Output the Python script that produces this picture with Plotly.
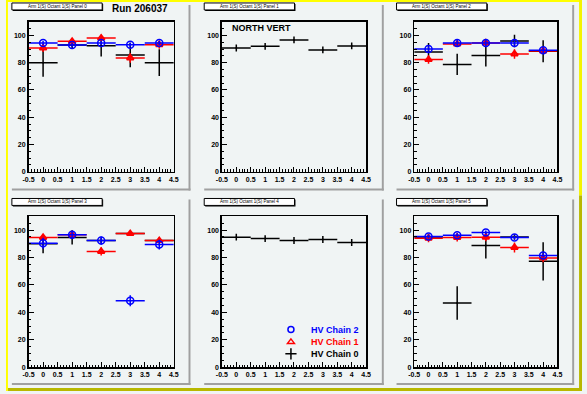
import plotly.graph_objects as go

W, H = 587, 394

# ---------------- data ----------------
bins = [0, 1, 2, 3, 4]
bin_half_width = [0.5, 0.5, 0.5, 0.5, 0.5]

x_tickvals = [-0.5, 0, 0.5, 1, 1.5, 2, 2.5, 3, 3.5, 4, 4.5]
x_ticktext = ["-0.5", "0", "0.5", "1", "1.5", "2", "2.5", "3", "3.5", "4", "4.5"]
y_tickvals = [0, 20, 40, 60, 80, 100]
y_ticktext = ["0", "20", "40", "60", "80", "100"]

panel_titles = [
    "Arm 1(S) Octant 1(S) Panel 0",
    "Arm 1(S) Octant 1(S) Panel 1",
    "Arm 1(S) Octant 1(S) Panel 2",
    "Arm 1(S) Octant 1(S) Panel 3",
    "Arm 1(S) Octant 1(S) Panel 4",
    "Arm 1(S) Octant 1(S) Panel 5",
]
run_label = "Run 206037"
region_label = "NORTH VERT"
chain_names = ["HV Chain 0", "HV Chain 1", "HV Chain 2"]

# panel 0
p0_chain0 = [80.0, 93.0, 92.5, 85.7, 80.0]
p0_chain0_err = [10.3, 2.5, 8.0, 9.0, 9.8]
p0_chain1 = [90.8, 95.7, 98.1, 83.5, 93.2]
p0_chain1_err = [3.0, 2.5, 2.0, 3.5, 3.0]
p0_chain2 = [94.5, 93.0, 94.5, 93.2, 94.5]
p0_chain2_err = [1.5, 1.5, 1.5, 1.5, 1.5]
# panel 1
p1_chain0 = [90.8, 92.0, 96.7, 89.4, 92.3]
p1_chain0_err = [2.5, 2.5, 2.5, 2.5, 2.5]
# panel 2
p2_chain0 = [87.9, 78.7, 85.2, 95.9, 88.4]
p2_chain0_err = [6.5, 7.8, 8.0, 4.6, 8.0]
p2_chain1 = [82.3, 93.7, 94.5, 86.4, 88.6]
p2_chain1_err = [3.0, 2.0, 2.0, 3.5, 2.0]
p2_chain2 = [90.1, 94.5, 94.5, 94.5, 89.1]
p2_chain2_err = [2.0, 2.0, 2.0, 2.0, 2.0]
# panel 3
p3_chain0 = [90.0, 94.6, 92.3, 97.4, 92.3]
p3_chain0_err = [7.0, 5.2, 2.0, 1.0, 2.0]
p3_chain1 = [94.6, 96.5, 84.4, 97.4, 92.3]
p3_chain1_err = [2.5, 2.0, 3.0, 1.0, 2.0]
p3_chain2 = [90.4, 96.5, 92.3, 48.5, 89.4]
p3_chain2_err = [4.0, 3.0, 3.0, 4.0, 3.5]
# panel 4
p4_chain0 = [94.8, 93.8, 92.4, 93.1, 90.9]
p4_chain0_err = [2.5, 2.5, 2.5, 2.5, 2.5]
# panel 5
p5_chain0 = [95.0, 46.8, 88.8, 95.0, 77.2]
p5_chain0_err = [2.0, 12.3, 9.5, 2.0, 13.9]
p5_chain1 = [94.1, 94.6, 94.8, 87.3, 79.6]
p5_chain1_err = [3.0, 3.0, 3.0, 3.7, 3.0]
p5_chain2 = [95.3, 96.2, 98.2, 94.6, 81.5]
p5_chain2_err = [1.5, 1.5, 1.5, 1.5, 1.5]

panels = [
    [(p0_chain0, p0_chain0_err), (p0_chain1, p0_chain1_err), (p0_chain2, p0_chain2_err)],
    [(p1_chain0, p1_chain0_err), None, None],
    [(p2_chain0, p2_chain0_err), (p2_chain1, p2_chain1_err), (p2_chain2, p2_chain2_err)],
    [(p3_chain0, p3_chain0_err), (p3_chain1, p3_chain1_err), (p3_chain2, p3_chain2_err)],
    [(p4_chain0, p4_chain0_err), None, None],
    [(p5_chain0, p5_chain0_err), (p5_chain1, p5_chain1_err), (p5_chain2, p5_chain2_err)],
]

# ---------------- styling / layout ----------------
BG = "#f0f4f4"
FONT = "Liberation Sans, Arial, Helvetica, sans-serif"
chain_colors = ["#000000", "#ff0000", "#0000ff"]
chain_symbols = ["circle", "triangle-up-open", "circle-open"]
chain_msize = [1, 6, 7]
chain_mline = [1, 2, 1.5]

frame_left = [23, 220, 416]
frame_right = [171, 367, 562]
frame_top = [22, 218]
frame_bottom = [173, 370]

pad_x = [(4, 188), (200, 385), (396, 579)]
pad_y = [(3, 192), (199, 388)]
title_box_x = [(6, 98), (202, 294), (398, 490)]
title_box_y = [(3, 10), (200, 207)]


def px(x):
    return x / W


def py(y):
    return 1 - y / H


fig = go.Figure()
layout = dict(
    width=W, height=H,
    margin=dict(l=0, r=0, t=0, b=0),
    paper_bgcolor=BG, plot_bgcolor=BG,
    showlegend=True,
    font=dict(family=FONT, color="black"),
)

shapes = []
annotations = []

for i in range(6):
    r, c = divmod(i, 3)
    sfx = "" if i == 0 else str(i + 1)
    xa = "xaxis" + sfx
    ya = "yaxis" + sfx
    layout[xa] = dict(
        domain=[px(frame_left[c]), px(frame_right[c])],
        range=[-0.5, 4.5], anchor="y" + sfx,
        showgrid=False, zeroline=False,
        showline=True, linecolor="black", linewidth=1.5, mirror=True,
        tickmode="array", tickvals=x_tickvals, ticktext=x_ticktext,
        ticks="inside", ticklen=5, tickwidth=1, tickcolor="black",
        minor=dict(tickmode="linear", tick0=-0.5, dtick=0.1, ticks="inside",
                   ticklen=2.5, tickwidth=1, tickcolor="black", showgrid=False),
        tickfont=dict(family=FONT, size=7, color="black", weight="bold"),
        fixedrange=True,
    )
    layout[ya] = dict(
        domain=[py(frame_bottom[r]), py(frame_top[r])],
        range=[0, 110], anchor="x" + sfx,
        showgrid=False, zeroline=False,
        showline=True, linecolor="black", linewidth=1.5, mirror=True,
        tickmode="array", tickvals=y_tickvals, ticktext=y_ticktext,
        ticks="inside", ticklen=5, tickwidth=1, tickcolor="black",
        minor=dict(tickmode="linear", tick0=0, dtick=5, ticks="inside",
                   ticklen=2.5, tickwidth=1, tickcolor="black", showgrid=False),
        tickfont=dict(family=FONT, size=7, color="black", weight="bold"),
        fixedrange=True,
    )

    for k, series in enumerate(panels[i]):
        if series is None:
            continue
        vals, errs = series
        col = chain_colors[k]
        fig.add_trace(go.Scatter(
            x=bins, y=vals, mode="markers",
            xaxis="x" + sfx, yaxis="y" + sfx,
            marker=dict(symbol=chain_symbols[k], size=chain_msize[k], color=col,
                        line=dict(color=col, width=chain_mline[k])),
            error_x=dict(type="data", array=bin_half_width, width=0,
                         thickness=1.5, color=col),
            error_y=dict(type="data", array=errs, width=0,
                         thickness=1.5, color=col),
            showlegend=False, hoverinfo="skip", cliponaxis=False,
        ))

    # pad shadow
    (l, rr), (t, b) = pad_x[c], pad_y[r]
    shapes.append(dict(type="rect", xref="paper", yref="paper",
                       x0=px(rr - 2), x1=px(rr), y0=py(b), y1=py(t + 2),
                       fillcolor="#a0a0a0", line=dict(width=0)))
    shapes.append(dict(type="rect", xref="paper", yref="paper",
                       x0=px(l + 2), x1=px(rr), y0=py(b), y1=py(b - 2),
                       fillcolor="#a0a0a0", line=dict(width=0)))
    # title box
    bx0, bx1 = title_box_x[c]
    by0, by1 = title_box_y[r]
    shapes.append(dict(type="rect", xref="paper", yref="paper",
                       x0=px(bx0 + 1), x1=px(bx1 + 1), y0=py(by1 + 1), y1=py(by0 + 1),
                       fillcolor="black", line=dict(width=0)))
    shapes.append(dict(type="rect", xref="paper", yref="paper",
                       x0=px(bx0), x1=px(bx1), y0=py(by1), y1=py(by0),
                       fillcolor="white", line=dict(color="black", width=1)))
    annotations.append(dict(xref="paper", yref="paper",
                            x=px((bx0 + bx1) / 2), y=py((by0 + by1) / 2),
                            text=panel_titles[i], showarrow=False,
                            xanchor="center", yanchor="middle",
                            font=dict(family=FONT, size=4.5, color="black")))

# canvas border
shapes += [
    dict(type="rect", xref="paper", yref="paper", x0=0, x1=px(2), y0=0, y1=1,
         fillcolor="#ffff00", line=dict(width=0)),
    dict(type="rect", xref="paper", yref="paper", x0=0, x1=1, y0=py(2), y1=1,
         fillcolor="#ffff00", line=dict(width=0)),
    dict(type="rect", xref="paper", yref="paper", x0=px(584), x1=1, y0=py(197), y1=1,
         fillcolor="#f4f400", line=dict(width=0)),
    dict(type="rect", xref="paper", yref="paper", x0=px(584), x1=1, y0=0, y1=py(197),
         fillcolor="#b8b800", line=dict(width=0)),
    dict(type="rect", xref="paper", yref="paper", x0=px(2), x1=1, y0=0, y1=py(391),
         fillcolor="#b8b800", line=dict(width=0)),
]

annotations.append(dict(xref="paper", yref="paper", x=px(106), y=py(9),
                        text=run_label, showarrow=False, xanchor="left", yanchor="middle",
                        font=dict(family=FONT, size=10, color="black", weight="bold")))
annotations.append(dict(xref="paper", yref="paper", x=px(228), y=py(28),
                        text=region_label, showarrow=False, xanchor="left", yanchor="middle",
                        font=dict(family=FONT, size=9, color="black", weight="bold")))

# legend entries (one legend per entry so each has its own text colour)
legend_symbols = ["cross-thin-open", "triangle-up-open", "circle-open"]
legend_rows = [(2, 332, "legend"), (1, 344.5, "legend2"), (0, 356.5, "legend3")]
for k, yrow, lname in legend_rows:
    col = chain_colors[k]
    fig.add_trace(go.Scatter(
        x=[None], y=[None], mode="markers", name=chain_names[k],
        xaxis="x5", yaxis="y5", legend=lname,
        marker=dict(symbol=legend_symbols[k], size=6 if k > 0 else 8, color=col,
                    line=dict(color=col, width=1.5)),
    ))
    layout[lname] = dict(
        x=px(311 - 41), y=py(yrow), xanchor="left", yanchor="middle",
        bgcolor="rgba(0,0,0,0)", borderwidth=0, itemwidth=30,
        font=dict(family=FONT, size=9, color=col, weight="bold"),
        itemclick=False, itemdoubleclick=False,
    )

layout["shapes"] = shapes
layout["annotations"] = annotations
fig.update_layout(**layout)

fig.write_html("out.html",
               config={"displayModeBar": False, "staticPlot": True},
               post_script="document.body.style.margin='0px';"
                           "document.body.style.overflow='hidden';")
